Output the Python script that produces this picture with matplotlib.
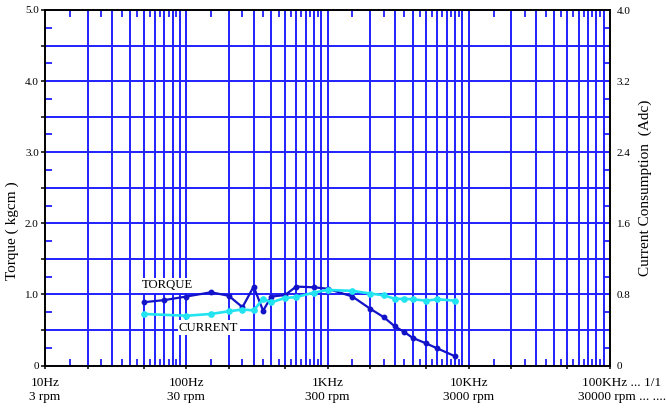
import numpy as np
import matplotlib
matplotlib.use('Agg')
import matplotlib.pyplot as plt
from matplotlib.ticker import FixedLocator, FixedFormatter, NullFormatter
from matplotlib.transforms import ScaledTranslation

plt.rcParams['font.family'] = ['Liberation Serif', 'DejaVu Serif']

# ---- data ----
torque_freq = [50, 70, 100, 150, 200, 250, 300, 350, 400, 500, 600, 800, 1000,
               1500, 2000, 2500, 3000, 3500, 4000, 5000, 6000, 8000]
torque = [0.89, 0.92, 0.97, 1.03, 0.98, 0.82, 1.11, 0.77, 0.97, 0.99, 1.11, 1.10, 1.08,
          0.97, 0.80, 0.68, 0.55, 0.47, 0.39, 0.31, 0.24, 0.13]
current_freq = [50, 100, 150, 200, 250, 300, 350, 400, 500, 600, 800, 1000,
                1500, 2000, 2500, 3000, 3500, 4000, 5000, 6000, 8000]
current = [0.58, 0.56, 0.58, 0.61, 0.63, 0.62, 0.75, 0.71, 0.76, 0.77, 0.82, 0.85,
           0.84, 0.81, 0.79, 0.75, 0.75, 0.745, 0.73, 0.745, 0.73]

x_label_pos = [10, 100, 1000, 10000, 100000]
x_labels = ['10Hz\n3 rpm', '100Hz\n30 rpm', '1KHz\n300 rpm', '10KHz\n3000 rpm',
            '100KHz ... 1/1\n30000 rpm ... ....']
left_ticks = [0, 0.5, 1, 1.5, 2, 2.5, 3, 3.5, 4, 4.5, 5]
left_labels = ['0', '', '1.0', '', '2.0', '', '3.0', '', '4.0', '', '5.0']
right_ticks = [0, 0.4, 0.8, 1.2, 1.6, 2.0, 2.4, 2.8, 3.2, 3.6, 4.0]
right_labels = ['0', '', '0.8', '', '1.6', '', '2.4', '', '3.2', '', '4.0']

GRID = '#2020ff'
TORQ = '#1212c8'
CURR = '#22e4f0'

fig = plt.figure(figsize=(6.66, 4.13), dpi=100)
ax = fig.add_axes([45/666, 1-365.5/413, (610-45)/666, (365.5-10)/413])
ax.set_xscale('log')
ax.set_xlim(10, 100000)
ax.set_ylim(0, 5)

# vertical grid lines at every integer multiple within each decade
decades = [10, 100, 1000, 10000]
for d in decades:
    for m in range(2, 11):
        v = d * m
        if v < 100000:
            ax.axvline(v, color=GRID, lw=1.4, zorder=1)

# horizontal grid
ax.yaxis.set_major_locator(FixedLocator(left_ticks))
ax.yaxis.set_major_formatter(FixedFormatter(left_labels))
ax.yaxis.set_minor_locator(FixedLocator([t + 0.25 for t in left_ticks[:-1]]))
ax.grid(axis='y', which='major', color=GRID, lw=1.4, zorder=1)
ax.set_axisbelow(True)

# x ticks
major_x = []
for d in decades:
    major_x += [d, 2*d, 5*d]
major_x.append(100000)
ax.xaxis.set_major_locator(FixedLocator(major_x))
ax.xaxis.set_major_formatter(FixedFormatter(
    [x_labels[x_label_pos.index(v)] if v in x_label_pos else '' for v in major_x]))
minor_x = []
for d in decades:
    minor_x += [d * (k + 0.5) for k in range(1, 9)]
ax.xaxis.set_minor_locator(FixedLocator(minor_x))
ax.xaxis.set_minor_formatter(NullFormatter())

ax.tick_params(axis='x', which='major', direction='inout', length=4, width=1.1,
               color='black', labelsize=9.5, pad=6, top=False)
ax.tick_params(axis='x', which='minor', direction='in', length=5, width=1.3,
               color=GRID, top=True, bottom=True)
ax.tick_params(axis='y', which='major', direction='out', length=3, width=1.1,
               color='black', labelsize=8, pad=1.5)
ax.tick_params(axis='y', which='minor', direction='in', length=5, width=1.3,
               color=GRID)
for lab in ax.get_xticklabels():
    lab.set_linespacing(1.25)
last = ax.get_xticklabels()[-1]
last.set_transform(last.get_transform() + ScaledTranslation(12/100, 0, fig.dpi_scale_trans))

for s in ax.spines.values():
    s.set_color('black')
    s.set_linewidth(1.2)

ax.plot(torque_freq, torque, color=TORQ, lw=1.6, marker='o', ms=3.2, zorder=3)

ax.set_ylabel('Torque ( kgcm )', fontsize=11)
ax.yaxis.set_label_coords((19 - 45) / 565, 0.38)

# right axis
ax2 = ax.twinx()
ax2.set_ylim(0, 4)
ax2.yaxis.set_major_locator(FixedLocator(right_ticks))
ax2.yaxis.set_major_formatter(FixedFormatter(right_labels))
ax2.yaxis.set_minor_locator(FixedLocator([t + 0.2 for t in right_ticks[:-1]]))
ax2.tick_params(axis='y', which='major', length=0, labelsize=8, pad=5)
ax2.tick_params(axis='y', which='minor', direction='in', length=5, width=1.3,
                color=GRID)
for s in ax2.spines.values():
    s.set_color('black')
    s.set_linewidth(1.2)
ax2.plot(current_freq, current, color=CURR, lw=1.9, marker='o', ms=3.8, zorder=3)
ax2.set_ylabel('Current Consumption  (Adc)', fontsize=11)
ax2.yaxis.set_label_coords(1 + 29/565, 0.5)

ax2.text(48.3, 1.13 * 0.8, 'TORQUE', fontsize=9.2, ha='left', va='center',
         bbox=dict(facecolor='white', edgecolor='none', pad=1), zorder=5)
ax2.text(88.8, 0.53 * 0.8, 'CURRENT', fontsize=9.2, ha='left', va='center',
         bbox=dict(facecolor='white', edgecolor='none', pad=1), zorder=5)

fig.savefig('out.png', dpi=100)
